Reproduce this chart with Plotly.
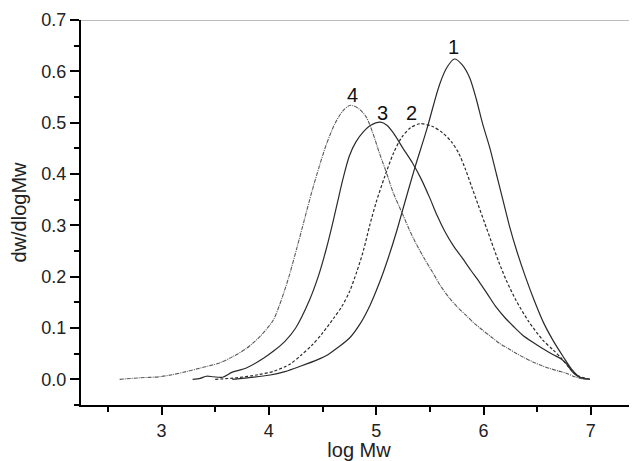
import plotly.graph_objects as go

# Curve 1 (solid)
x1 = [3.66, 3.8, 4.0, 4.15, 4.3, 4.45, 4.55, 4.65, 4.75, 4.85, 4.94, 5.03, 5.11, 5.19, 5.27, 5.36, 5.47,
      5.59, 5.66, 5.73, 5.80, 5.87, 5.93, 5.99, 6.06, 6.12, 6.18, 6.24, 6.31, 6.39, 6.47, 6.56, 6.65,
      6.74, 6.82, 6.9, 6.99]
y1 = [0.0, 0.003, 0.008, 0.015, 0.026, 0.038, 0.048, 0.063, 0.08, 0.108, 0.143, 0.188, 0.235, 0.288, 0.347,
      0.412, 0.486, 0.574, 0.608, 0.624, 0.613, 0.588, 0.548, 0.499, 0.45, 0.40, 0.35, 0.30, 0.25, 0.2,
      0.155, 0.11, 0.075, 0.045, 0.02, 0.004, 0.0]

# Curve 2 (dashed)
x2 = [3.5, 3.7, 3.9, 4.05, 4.2, 4.3, 4.4, 4.5, 4.6, 4.68, 4.75, 4.82, 4.88, 4.94, 5.0, 5.08, 5.16, 5.24,
      5.32, 5.41, 5.52, 5.62, 5.70, 5.77, 5.83, 5.89, 5.95, 6.01, 6.07, 6.14, 6.21, 6.3, 6.42, 6.55, 6.65,
      6.73, 6.8, 6.87, 6.95, 6.99]
y2 = [0.0, 0.003, 0.009, 0.016, 0.03, 0.047, 0.066, 0.09, 0.118, 0.142, 0.17, 0.21, 0.25, 0.30, 0.345,
      0.395, 0.44, 0.472, 0.49, 0.498, 0.493, 0.48, 0.463, 0.44, 0.41, 0.375, 0.34, 0.305, 0.27, 0.23,
      0.194, 0.155, 0.113, 0.077, 0.057, 0.04, 0.022, 0.008, 0.002, 0.0]

# Curve 3 (solid)
x3 = [3.29, 3.36, 3.42, 3.48, 3.57, 3.66, 3.79, 3.95, 4.05, 4.15, 4.25, 4.38, 4.46, 4.53, 4.59, 4.64, 4.69,
      4.75, 4.81, 4.88, 4.95, 5.04, 5.10, 5.16, 5.25, 5.34, 5.42, 5.50, 5.57, 5.64, 5.72, 5.80, 5.88, 5.96,
      6.04, 6.12, 6.20, 6.28, 6.36, 6.46, 6.55, 6.65, 6.72, 6.77, 6.83, 6.9, 6.99]
y3 = [0.0, 0.002, 0.006, 0.005, 0.004, 0.014, 0.022, 0.041, 0.056, 0.074, 0.1, 0.155, 0.2, 0.25, 0.30,
      0.345, 0.39, 0.435, 0.462, 0.482, 0.495, 0.501, 0.495, 0.48, 0.45, 0.421, 0.39, 0.353, 0.318, 0.288,
      0.26, 0.237, 0.213, 0.19, 0.165, 0.14, 0.12, 0.103, 0.087, 0.072, 0.06, 0.048, 0.04, 0.031, 0.014,
      0.003, 0.0]

# Curve 4 (dash-dot, light)
x4 = [2.61, 2.8, 2.98, 3.1, 3.23, 3.36, 3.54, 3.67, 3.79, 3.92, 4.04, 4.10, 4.18, 4.26, 4.33, 4.40, 4.47,
      4.54, 4.62, 4.69, 4.76, 4.84, 4.91, 4.97, 5.03, 5.10, 5.16, 5.25, 5.31, 5.37, 5.45, 5.53, 5.60, 5.68,
      5.76, 5.84, 5.92, 5.99, 6.07, 6.15, 6.23, 6.31, 6.38, 6.46, 6.55, 6.62, 6.7, 6.77, 6.85, 6.92, 6.99]
y4 = [0.0, 0.003, 0.005, 0.009, 0.015, 0.022, 0.032, 0.045, 0.06, 0.084, 0.115, 0.145, 0.195, 0.255, 0.31,
      0.365, 0.415, 0.46, 0.5, 0.523, 0.534, 0.527, 0.51, 0.479, 0.441, 0.4, 0.363, 0.32, 0.291, 0.265,
      0.235, 0.207, 0.182, 0.159, 0.14, 0.124, 0.108, 0.096, 0.083, 0.07, 0.06, 0.05, 0.042, 0.034, 0.026,
      0.021, 0.016, 0.012, 0.005, 0.001, 0.0]

curve_labels = ["1", "2", "3", "4"]
label_x = [5.72, 5.33, 5.06, 4.78]
label_y = [0.648, 0.518, 0.518, 0.553]

x_ticks = [3, 4, 5, 6, 7]
y_ticks = [0.0, 0.1, 0.2, 0.3, 0.4, 0.5, 0.6, 0.7]

FONT = "Liberation Sans, Arial, Helvetica, sans-serif"
SM = 0.8

fig = go.Figure()
fig.add_trace(go.Scatter(x=x1, y=y1, mode="lines", line=dict(color="#2a2a2a", width=1.2, shape="spline", smoothing=SM), name="1"))
fig.add_trace(go.Scatter(x=x2, y=y2, mode="lines", line=dict(color="#2a2a2a", width=1.2, dash="3px,2px", shape="spline", smoothing=SM), name="2"))
fig.add_trace(go.Scatter(x=x3, y=y3, mode="lines", line=dict(color="#2a2a2a", width=1.2, shape="spline", smoothing=SM), name="3"))
fig.add_trace(go.Scatter(x=x4, y=y4, mode="lines", line=dict(color="#5a5a5a", width=1.1, dash="4px,1px,1px,1px", shape="spline", smoothing=SM), name="4"))

for t, xv, yv in zip(curve_labels, label_x, label_y):
    fig.add_annotation(x=xv, y=yv, text=t, showarrow=False, font=dict(family=FONT, size=20, color="#111"))

fig.add_shape(type="line", xref="paper", yref="y", x0=0, x1=1, y0=0.7, y1=0.7,
              line=dict(color="#bdbdbd", width=2), layer="below")

fig.update_layout(
    width=629, height=453,
    margin=dict(l=73, r=0, t=12, b=56),
    paper_bgcolor="white", plot_bgcolor="white",
    showlegend=False,
    font=dict(family=FONT, size=18, color="#222"),
    xaxis=dict(
        range=[2.25, 7.43], tickvals=x_ticks, ticktext=[str(v) for v in x_ticks],
        showline=True, linecolor="black", linewidth=2, showgrid=False, zeroline=False,
        ticks="outside", ticklen=8, tickwidth=2, tickcolor="black",
        minor=dict(dtick=0.5, tick0=2.5, ticks="outside", ticklen=5, tickwidth=2, tickcolor="black", showgrid=False),
        title=dict(text="log Mw", font=dict(size=20), standoff=6),
        tickfont=dict(size=18),
    ),
    yaxis=dict(
        range=[-0.05, 0.7], tickvals=y_ticks, ticktext=[f"{v:.1f}" for v in y_ticks],
        showline=True, linecolor="black", linewidth=2, showgrid=False, zeroline=False,
        ticks="outside", ticklen=9, tickwidth=2, tickcolor="black",
        minor=dict(dtick=0.05, tick0=0.05, ticks="outside", ticklen=5, tickwidth=2, tickcolor="black", showgrid=False),
        title=dict(text="dw/dlogMw", font=dict(size=20), standoff=12),
        tickfont=dict(size=18),
    ),
)

fig.write_html("out.html")
